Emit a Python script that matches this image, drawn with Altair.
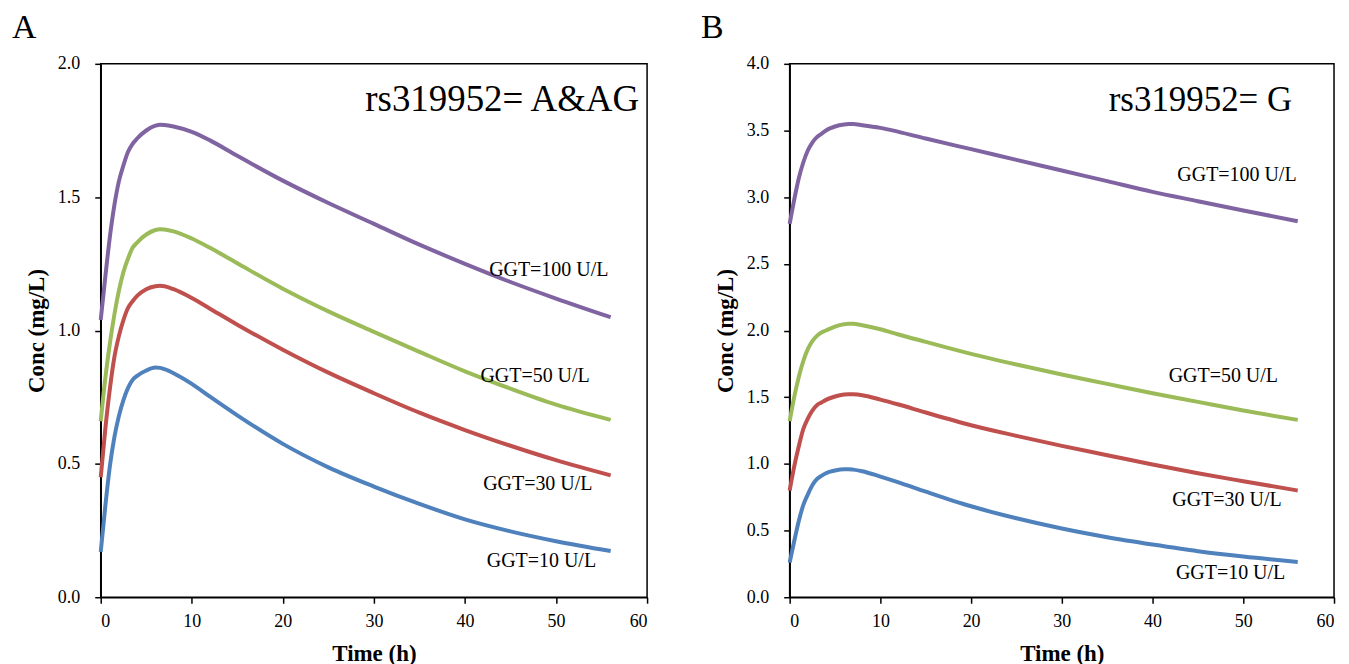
import altair as alt
import pandas as pd

TIME = [0, 0.5, 1, 1.5, 2, 2.5, 3, 3.5, 4, 5, 6, 6.5, 7, 8, 10, 12, 15, 20, 25, 30, 35, 40, 45, 50, 56]

SERIES = ["GGT=10 U/L", "GGT=30 U/L", "GGT=50 U/L", "GGT=100 U/L"]
COLORS = ["#4F81BD", "#C0504D", "#9BBB59", "#8064A2"]

# Panel A: rs319952 = A&AG
A_GGT10 = [0.17, 0.34, 0.49, 0.60, 0.68, 0.74, 0.785, 0.815, 0.83, 0.85, 0.861, 0.86, 0.855, 0.84, 0.80, 0.752, 0.682, 0.575, 0.487, 0.415, 0.35, 0.292, 0.247, 0.21, 0.173]
A_GGT30 = [0.45, 0.63, 0.78, 0.90, 0.98, 1.04, 1.085, 1.11, 1.13, 1.155, 1.166, 1.168, 1.166, 1.155, 1.122, 1.082, 1.022, 0.928, 0.842, 0.765, 0.692, 0.627, 0.568, 0.514, 0.457]
A_GGT50 = [0.66, 0.82, 0.95, 1.06, 1.15, 1.22, 1.27, 1.31, 1.33, 1.36, 1.377, 1.38, 1.379, 1.372, 1.345, 1.31, 1.252, 1.157, 1.072, 0.995, 0.92, 0.847, 0.782, 0.722, 0.665]
A_GGT100 = [1.04, 1.20, 1.35, 1.47, 1.56, 1.62, 1.67, 1.70, 1.72, 1.75, 1.768, 1.772, 1.771, 1.765, 1.745, 1.713, 1.655, 1.562, 1.478, 1.40, 1.322, 1.25, 1.182, 1.12, 1.05]

# Panel B: rs319952 = G
B_GGT10 = [0.26, 0.42, 0.57, 0.69, 0.77, 0.84, 0.885, 0.91, 0.93, 0.95, 0.96, 0.96, 0.957, 0.945, 0.905, 0.862, 0.792, 0.682, 0.592, 0.515, 0.45, 0.395, 0.345, 0.305, 0.265]
B_GGT30 = [0.80, 0.98, 1.13, 1.26, 1.34, 1.40, 1.44, 1.46, 1.48, 1.505, 1.52, 1.523, 1.522, 1.515, 1.482, 1.445, 1.385, 1.29, 1.21, 1.135, 1.065, 0.995, 0.93, 0.87, 0.80]
B_GGT50 = [1.32, 1.50, 1.65, 1.77, 1.86, 1.92, 1.96, 1.985, 2.00, 2.03, 2.047, 2.05, 2.05, 2.04, 2.01, 1.97, 1.915, 1.825, 1.745, 1.67, 1.60, 1.53, 1.465, 1.40, 1.33]
B_GGT100 = [2.80, 2.98, 3.14, 3.26, 3.35, 3.41, 3.45, 3.475, 3.50, 3.53, 3.545, 3.548, 3.548, 3.54, 3.52, 3.49, 3.44, 3.36, 3.28, 3.20, 3.12, 3.04, 2.97, 2.90, 2.82]

# label anchor points (time, conc)
A_LABEL_T = [48.4, 48.0, 47.7, 49.2]
A_LABEL_C = [0.115, 0.401, 0.807, 1.203]
B_LABEL_T = [48.6, 48.2, 47.8, 49.3]
B_LABEL_C = [0.138, 0.687, 1.617, 3.119]

X_TICKS = [0, 10, 20, 30, 40, 50, 60]
A_Y_TICKS = [0.0, 0.5, 1.0, 1.5, 2.0]
B_Y_TICKS = [0.0, 0.5, 1.0, 1.5, 2.0, 2.5, 3.0, 3.5, 4.0]

FONT = "Liberation Serif"


def panel(letter, heading, series_vals, ymax, yticks, lab_t, lab_c, w, h, heading_x, heading_size):
    rows = []
    for name, vals in zip(SERIES, series_vals):
        for t, v in zip(TIME, vals):
            rows.append({"t": t, "c": v, "s": name})
    df = pd.DataFrame(rows)
    labs = pd.DataFrame({"t": lab_t, "c": lab_c, "s": SERIES})

    x = alt.X("t:Q", scale=alt.Scale(domain=[0, 60], nice=False),
              axis=alt.Axis(values=X_TICKS, title="Time (h)", labelPadding=9, titlePadding=12))
    y = alt.Y("c:Q", scale=alt.Scale(domain=[0, ymax], nice=False),
              axis=alt.Axis(values=yticks, format=".1f", title="Conc (mg/L)",
                            labelPadding=15, titlePadding=9))

    lines = alt.Chart(df).mark_line(strokeWidth=4, interpolate="monotone").encode(
        x=x, y=y,
        color=alt.Color("s:N", scale=alt.Scale(domain=SERIES, range=COLORS), legend=None),
    )
    texts = alt.Chart(labs).mark_text(font=FONT, fontSize=20, color="black",
                                      align="center", baseline="alphabetic").encode(
        x="t:Q", y="c:Q", text="s:N")
    head = alt.Chart(pd.DataFrame({"h": [heading]})).mark_text(
        font=FONT, fontSize=heading_size, color="black", align="right", baseline="alphabetic").encode(
        x=alt.value(heading_x), y=alt.value(47), text="h:N")
    let = alt.Chart(pd.DataFrame({"h": [letter]})).mark_text(
        font=FONT, fontSize=34, color="black", align="left", baseline="top").encode(
        x=alt.value(-89), y=alt.value(-53), text="h:N")
    return alt.layer(lines, texts, head, let).properties(width=w, height=h)


pa = panel("A", "rs319952= A&AG", [A_GGT10, A_GGT30, A_GGT50, A_GGT100], 2.0, A_Y_TICKS,
           A_LABEL_T, A_LABEL_C, 548, 535, 540, 37)
pb = panel("B", "rs319952= G", [B_GGT10, B_GGT30, B_GGT50, B_GGT100], 4.0, B_Y_TICKS,
           B_LABEL_T, B_LABEL_C, 546, 535, 504, 35)

chart = alt.hconcat(pa, pb, spacing=143, bounds="flush").properties(
    padding={"left": 3, "top": 1, "right": 5, "bottom": 5}
).configure_view(stroke="black", strokeWidth=1.5).configure_axis(
    labelFont=FONT, labelFontSize=18, labelColor="black",
    titleFont=FONT, titleFontSize=23, titleFontWeight="bold", titleColor="black",
    domainColor="black", domainWidth=1.5, tickColor="black", tickWidth=1.5, tickSize=6,
    grid=False,
)

chart.save("out.html", embed_options={"renderer": "svg", "actions": False})
